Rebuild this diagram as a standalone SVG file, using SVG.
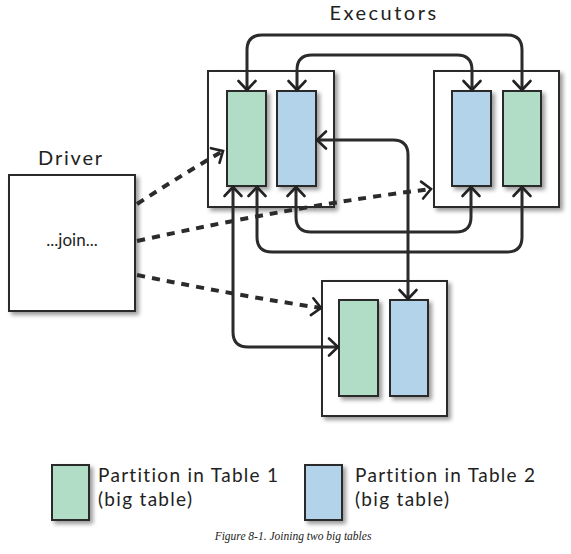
<svg xmlns="http://www.w3.org/2000/svg" width="571" height="554" viewBox="0 0 571 554">
<defs>
<style>
.box{fill:#fff;stroke:#2b2b2b;stroke-width:2;filter:url(#sh)}
.g{fill:#b1dcc5;stroke:#2b2b2b;stroke-width:2;filter:url(#sh)}
.b{fill:#b2d3ea;stroke:#2b2b2b;stroke-width:2;filter:url(#sh)}
.c{fill:none;stroke:#2b2b2b;stroke-width:3;stroke-linecap:round;marker-start:url(#ah);marker-end:url(#ah)}
.d{fill:none;stroke:#2b2b2b;stroke-width:4;stroke-dasharray:8 7;marker-end:url(#ah)}
.t{font-family:"Lato","Open Sans",sans-serif;fill:#222}
.lg{font-size:19px;letter-spacing:1.3px}
</style>
<filter id="sh" x="-10%" y="-10%" width="130%" height="130%">
<feGaussianBlur in="SourceAlpha" stdDeviation="2"/>
<feOffset dx="3" dy="3"/>
<feComponentTransfer><feFuncA type="linear" slope="0.4"/></feComponentTransfer>
<feMerge><feMergeNode/><feMergeNode in="SourceGraphic"/></feMerge>
</filter>
<marker id="ah" markerUnits="userSpaceOnUse" markerWidth="20" markerHeight="20" refX="10" refY="9" orient="auto-start-reverse" overflow="visible">
<path d="M1,0.5 L10,9 L1,17.5" fill="none" stroke="#222" stroke-width="2.6" stroke-linecap="round" stroke-linejoin="miter"/>
</marker>
</defs>
<rect width="571" height="554" fill="#fff"/>

<text class="t" x="384" y="20" font-size="20" letter-spacing="2.5" text-anchor="middle">Executors</text>
<text class="t" x="71" y="165" font-size="20" letter-spacing="1.8" text-anchor="middle">Driver</text>

<g id="driver">
<rect class="box" x="9" y="175" width="126" height="136"/>
<text class="t" x="72" y="246" font-size="17" text-anchor="middle">...join...</text>
</g>

<g id="executor1">
<rect class="box" x="208" y="71" width="126" height="136"/>
<rect class="g" x="227" y="91" width="39" height="95"/>
<rect class="b" x="277" y="91" width="39" height="95"/>
</g>

<g id="executor2">
<rect class="box" x="434" y="71" width="125" height="136"/>
<rect class="b" x="452" y="91" width="39" height="95"/>
<rect class="g" x="503" y="91" width="38" height="95"/>
</g>

<g id="executor3">
<rect class="box" x="322" y="281" width="125" height="135"/>
<rect class="g" x="339" y="300" width="39" height="96"/>
<rect class="b" x="390" y="300" width="38" height="96"/>
</g>

<g id="connectors">
<path class="c" d="M247,90 L247,50 Q247,35 262,35 L507,35 Q522,35 522,50 L522,90"/>
<path class="c" d="M297,90 L297,70 Q297,55 312,55 L457,55 Q472,55 472,70 L472,90"/>
<path class="c" d="M296,187 L296,217 Q296,232 311,232 L456,232 Q471,232 471,217 L471,187"/>
<path class="c" d="M257,187 L257,237 Q257,252 272,252 L507,252 Q522,252 522,237 L522,187"/>
<path class="c" d="M233,187 L233,332 Q233,347 248,347 L338,347"/>
<path class="c" d="M317,140 L393,140 Q408,140 408,155 L408,299"/>
<path class="d" d="M137,204 Q180,176 223,151"/>
<path class="d" d="M137,241 Q300,205 431,189"/>
<path class="d" d="M137,275 Q240,296 321,308"/>
</g>

<g id="legend">
<rect class="g" x="52" y="465" width="37" height="55"/>
<text class="t lg" x="98" y="482">Partition in Table 1</text>
<text class="t lg" x="98" y="506">(big table)</text>
<rect class="b" x="305" y="465" width="37" height="55"/>
<text class="t lg" x="355" y="482">Partition in Table 2</text>
<text class="t lg" x="355" y="506">(big table)</text>
</g>

<text x="293" y="540" font-family="Liberation Serif, serif" font-style="italic" font-size="11.5" text-anchor="middle" fill="#222">Figure 8-1. Joining two big tables</text>
</svg>
